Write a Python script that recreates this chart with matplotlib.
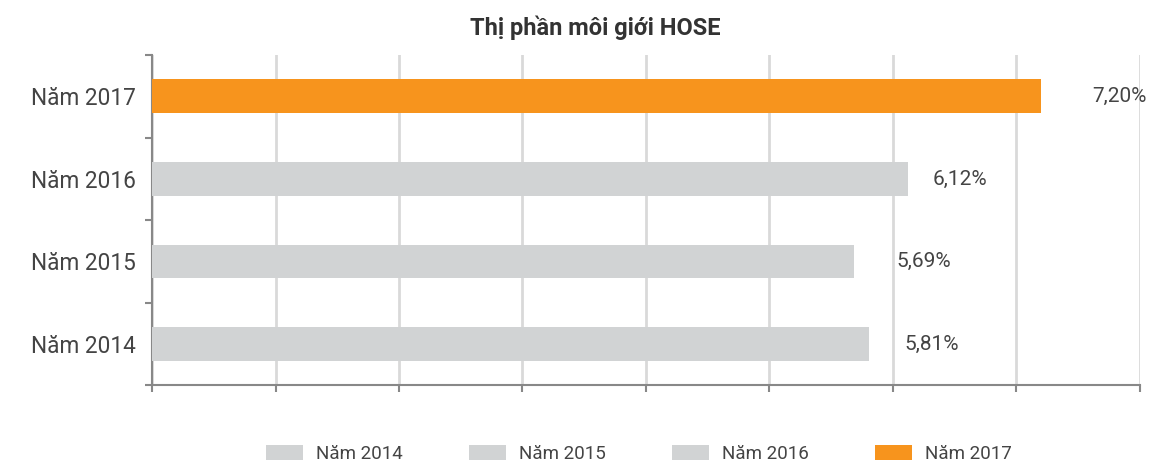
import numpy as np
import matplotlib
matplotlib.use('Agg')
import matplotlib.pyplot as plt
from matplotlib.patches import Patch

plt.rcParams['font.family'] = ['Roboto', 'DejaVu Sans']

# data
years = ['Năm 2014', 'Năm 2015', 'Năm 2016', 'Năm 2017']
share = [5.81, 5.69, 6.12, 7.20]
labels = ['5,81%', '5,69%', '6,12%', '7,20%']
colors = ['#D1D3D4', '#D1D3D4', '#D1D3D4', '#F7941D']
label_pad = [25, 30, 18, 37]  # points right of bar end

txt = '#444444'
fig = plt.figure(figsize=(11.7, 4.63), dpi=100)
ax = fig.add_axes([0.130, 0.168, 0.844, 0.713])

y = np.arange(len(years))
ax.barh(y, share, height=0.41, color=colors, zorder=3)

for i, v in enumerate(share):
    ax.annotate(labels[i], (v, y[i]), xytext=(label_pad[i], 0), textcoords='offset points',
                ha='left', va='center', fontsize=15, color=txt)

ax.set_xlim(0, 8)
ax.set_ylim(-0.5, 3.5)
ax.set_xticks(np.arange(0, 9))
ax.set_xticklabels([])
ax.grid(axis='x', color='#D9D9D9', linewidth=2, zorder=0)

ax.set_yticks(np.arange(-0.5, 4, 1))
ax.set_yticklabels([])
ax.set_yticks(y, minor=True)
ax.set_yticklabels(years, minor=True, fontsize=16.3, color=txt)
ax.tick_params(axis='y', which='minor', length=0, pad=12)
ax.tick_params(axis='y', which='major', length=5, width=1.5, color='#888888')
ax.tick_params(axis='x', length=5, width=1.5, color='#888888')

for s in ['top', 'right']:
    ax.spines[s].set_visible(False)
for s in ['left', 'bottom']:
    ax.spines[s].set_color('#888888')
    ax.spines[s].set_linewidth(1.5)

fig.text(0.509, 0.94, 'Thị phần môi giới HOSE', ha='center', va='center',
         fontsize=17, fontweight='bold', color='#333333')

handles = [Patch(facecolor=c, edgecolor='none') for c in colors]
ax.legend(handles, years, loc='upper center', bbox_to_anchor=(0.493, -0.14), ncol=4,
          frameon=False, fontsize=13.5, handlelength=2.0, handleheight=0.9,
          handletextpad=0.7, columnspacing=3.5, labelcolor=txt,
          borderpad=0.2)

fig.savefig('out.png', dpi=100)
